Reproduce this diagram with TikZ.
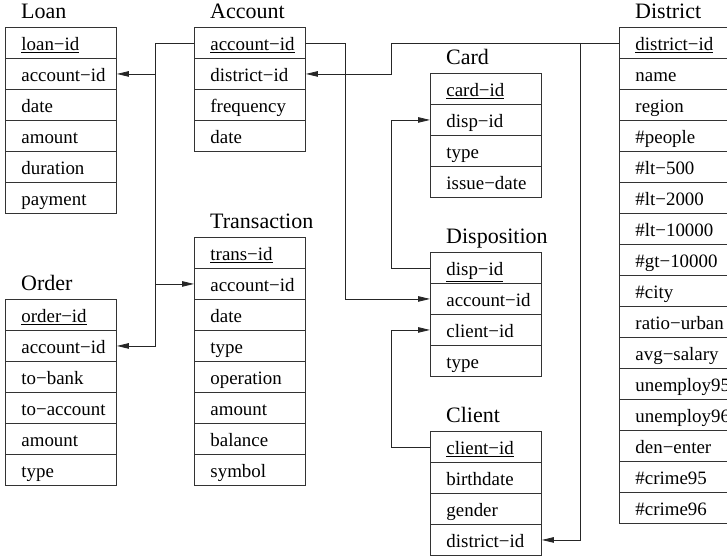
\documentclass[tikz,border=0pt]{standalone}
\usepackage{fontspec}
\setmainfont{Liberation Serif}
\usetikzlibrary{arrows.meta}
\tikzset{
  rowbox/.style={draw=black!80, line width=0.9pt, minimum height=31pt, inner ysep=0pt,
    inner xsep=16pt, text height=18pt, text depth=2pt, align=left,
    font=\fontsize{18.9}{22}\selectfont, anchor=north west},
  tabtitle/.style={font=\fontsize{22}{26}\selectfont, anchor=base west, inner sep=0pt},
  link/.style={draw=black!85, line width=0.8pt},
  fk/.style={link, -{Triangle[length=12pt,width=5.5pt]}},
}
\newcommand{\erdtable}[6]{%
  \node[tabtitle] (#1-title) at (#2+16,#3-8.7) {#5};
  \foreach \txt [count=\i] in {#6}{
    \node[rowbox, text width=#4] (#1-\i) at (#2,{#3+(\i-1)*31}) {\txt};
  }%
}
\begin{document}
\begin{tikzpicture}[x=1pt,y=-1pt]
\useasboundingbox (0,0) rectangle (727,559);
\clip (0,0) rectangle (727,559);
\erdtable{loan}{5}{27}{79pt}{Loan}{\underline{loan−id},account−id,date,amount,duration,payment}
\erdtable{account}{194}{27}{79pt}{Account}{\underline{account−id},district−id,frequency,date}
\erdtable{order}{5}{299}{79pt}{Order}{\underline{order−id},account−id,to−bank,to−account,amount,type}
\erdtable{trans}{194}{237}{79pt}{Transaction}{\underline{trans−id},account−id,date,type,operation,amount,balance,symbol}
\erdtable{card}{430}{73}{79pt}{Card}{\underline{card−id},disp−id,type,issue−date}
\erdtable{disp}{430}{252}{79pt}{Disposition}{\underline{disp−id},account−id,client−id,type}
\erdtable{client}{430}{431}{79pt}{Client}{\underline{client−id},birthdate,gender,district−id}
\erdtable{district}{619}{27}{100pt}{District}{\underline{district−id},name,region,\#people,\#lt−500,\#lt−2000,\#lt−10000,\#gt−10000,\#city,ratio−urban,avg−salary,unemploy95,unemploy96,den−enter,\#crime95,\#crime96}
% account-id of Account to Loan, Order, Transaction
\path (account-1.west) ++(-39,0) coordinate (accL);
\draw[fk] (account-1.west) -- (accL) |- (order-2.east);
\draw[fk] (accL |- loan-2.east) -- (loan-2.east);
\draw[fk] (accL |- trans-2.west) -- (trans-2.west);
% account-id of Account to Disposition
\path (account-1.east) ++(39.7,0) coordinate (accR);
\draw[fk] (account-1.east) -- (accR) |- (disp-2.west);
% district-id to Account and Client
\path (district-1.west) ++(-227.3,0) coordinate (distL);
\draw[fk] (district-1.west) -- (distL) |- (account-2.east);
\path (district-1.west) ++(-38.3,0) coordinate (distM);
\draw[fk] (distM) |- (client-4.east);
% disp-id to Card, client-id to Disposition
\draw[fk] (disp-1.west) -- (disp-1.west -| distL) |- (card-2.west);
\draw[fk] (client-1.west) -- (client-1.west -| distL) |- (disp-3.west);
\end{tikzpicture}
\end{document}
